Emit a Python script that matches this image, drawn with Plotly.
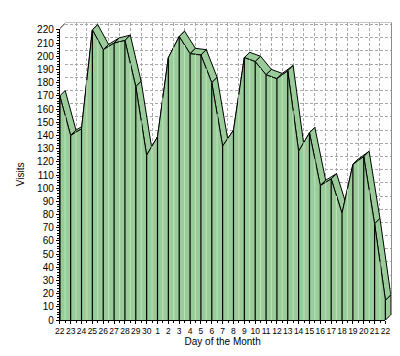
import plotly.graph_objects as go

# ---- data ----
days = ["22", "23", "24", "25", "26", "27", "28", "29", "30",
        "1", "2", "3", "4", "5", "6", "7", "8", "9", "10", "11",
        "12", "13", "14", "15", "16", "17", "18", "19", "20", "21", "22"]
visits = [170, 140, 145, 220, 205, 210, 212, 177, 125,
          139, 199, 215, 202, 201, 180, 132, 144, 199, 196, 186,
          183, 189, 128, 142, 102, 107, 81, 118, 124, 73, 15]
y_ticks = list(range(0, 221, 10))

# ---- geometry (pixels) ----
W, H = 400, 356
X0, X1 = 48, 382          # front plot left/right
Y0, YT = 317, 17.1        # front plot bottom/top
n = len(days)
PX_CAT = (X1 - X0) / (n - 1)
PX_UNIT = 1.357
DEPTH = 5.5
DX = DEPTH / PX_CAT
DY = DEPTH / PX_UNIT
YMAX = (Y0 - YT) / PX_UNIT

GREEN = "#99CC99"
LIGHT = "#BDE3BD"
FONT = "Liberation Sans, Arial, sans-serif"

fig = go.Figure()

# anchor trace for back-wall grid subplot
fig.add_trace(go.Scatter(x=[], y=[], xaxis="x", yaxis="y", hoverinfo="skip"))

# ribbons (top face), left to right
for i in range(n - 1):
    fig.add_trace(go.Scatter(
        x=[i, i + 1, i + 1 + DX, i + DX, i],
        y=[visits[i], visits[i + 1], visits[i + 1] + DY, visits[i] + DY, visits[i]],
        fill="toself", fillcolor=GREEN, mode="lines",
        line=dict(color="#000000", width=1),
        xaxis="x2", yaxis="y2", hoverinfo="skip"))

# front face
fig.add_trace(go.Scatter(
    x=[0] + list(range(n)) + [n - 1],
    y=[0] + visits + [0],
    fill="toself", fillcolor=GREEN, mode="lines",
    line=dict(color="#000000", width=1),
    xaxis="x2", yaxis="y2", hoverinfo="skip"))

# light stripes (back edges seen through)
sx, sy = [], []
for i in range(n - 1):
    top = visits[i] + (visits[i + 1] - visits[i]) * DX
    sx += [i + DX, i + DX, None]
    sy += [0, top, None]
fig.add_trace(go.Scatter(x=sx, y=sy, mode="lines",
                         line=dict(color=LIGHT, width=1),
                         xaxis="x2", yaxis="y2", hoverinfo="skip"))

# black vertical lines on front face
vx, vy = [], []
for i in range(n):
    vx += [i, i, None]
    vy += [0, visits[i], None]
fig.add_trace(go.Scatter(x=vx, y=vy, mode="lines",
                         line=dict(color="#000000", width=1.2),
                         xaxis="x2", yaxis="y2", hoverinfo="skip"))

# right end cap
fig.add_trace(go.Scatter(
    x=[n - 1, n - 1, n - 1 + DX, n - 1 + DX, n - 1],
    y=[0, visits[-1], visits[-1] + DY, DY, 0],
    fill="toself", fillcolor=GREEN, mode="lines",
    line=dict(color="#000000", width=1),
    xaxis="x2", yaxis="y2", hoverinfo="skip"))

# top-left depth edge
fig.add_trace(go.Scatter(x=[0, DX], y=[YMAX, YMAX + DY], mode="lines",
                         line=dict(color="#202020", width=1),
                         xaxis="x2", yaxis="y2", hoverinfo="skip"))

# anchor trace for front axes subplot
fig.add_trace(go.Scatter(x=[], y=[], xaxis="x3", yaxis="y3", hoverinfo="skip"))

fy = lambda py: (H - py) / H

fig.update_layout(
    width=W, height=H,
    margin=dict(l=0, r=0, t=0, b=0),
    paper_bgcolor="white",
    plot_bgcolor="rgba(0,0,0,0)",
    showlegend=False,
    hovermode=False,
    font=dict(family=FONT, size=10, color="#000000"),
    # back wall grid
    xaxis=dict(domain=[(X0 + DEPTH) / W, (X1 + DEPTH) / W], range=[0, n - 1],
               anchor="y", side="top", showline=True, linecolor="#C4C4C4", linewidth=1,
               showgrid=True, gridcolor="#A8A8A8", griddash="3px,2px", gridwidth=1,
               dtick=1, tick0=0, showticklabels=False, ticks="", zeroline=False),
    yaxis=dict(domain=[fy(Y0 - DEPTH), fy(YT - DEPTH)], range=[0, YMAX],
               anchor="x", side="right", showline=True, linecolor="#8C8C8C", linewidth=2,
               showgrid=True, gridcolor="#A8A8A8", griddash="3px,2px", gridwidth=1,
               dtick=10, tick0=0, showticklabels=False, ticks="", zeroline=False),
    # data subplot
    xaxis2=dict(domain=[X0 / W, (X1 + DEPTH) / W], range=[0, n - 1 + DX],
                anchor="y2", visible=False),
    yaxis2=dict(domain=[fy(Y0), fy(YT - DEPTH)], range=[0, YMAX + DY],
                anchor="x2", visible=False),
    # front axes
    xaxis3=dict(domain=[X0 / W, X1 / W], range=[0, n - 1], anchor="y3",
                tickmode="array", tickvals=list(range(n)), ticktext=days,
                tickangle=0,
                ticks="outside", ticklen=3, tickcolor="#000000",
                tickfont=dict(size=8.5, family=FONT),
                minor=dict(dtick=0.5, ticks="outside", ticklen=2, tickcolor="#000000"),
                showline=True, linecolor="#000000", linewidth=1,
                showgrid=False, zeroline=False,
                title=dict(text="Day of the Month", font=dict(size=10, family=FONT), standoff=0)),
    yaxis3=dict(domain=[fy(Y0), fy(YT)], range=[0, YMAX], anchor="x3",
                tickmode="array", tickvals=y_ticks, ticktext=[str(v) for v in y_ticks],
                ticks="outside", ticklen=3, tickcolor="#000000",
                tickfont=dict(size=10, family=FONT),
                minor=dict(dtick=2, ticks="outside", ticklen=2, tickcolor="#000000"),
                showline=True, linecolor="#000000", linewidth=1,
                showgrid=False, zeroline=False,
                title=dict(text="Visits", font=dict(size=10, family=FONT), standoff=10)),
)

fig.write_html("out.html")
